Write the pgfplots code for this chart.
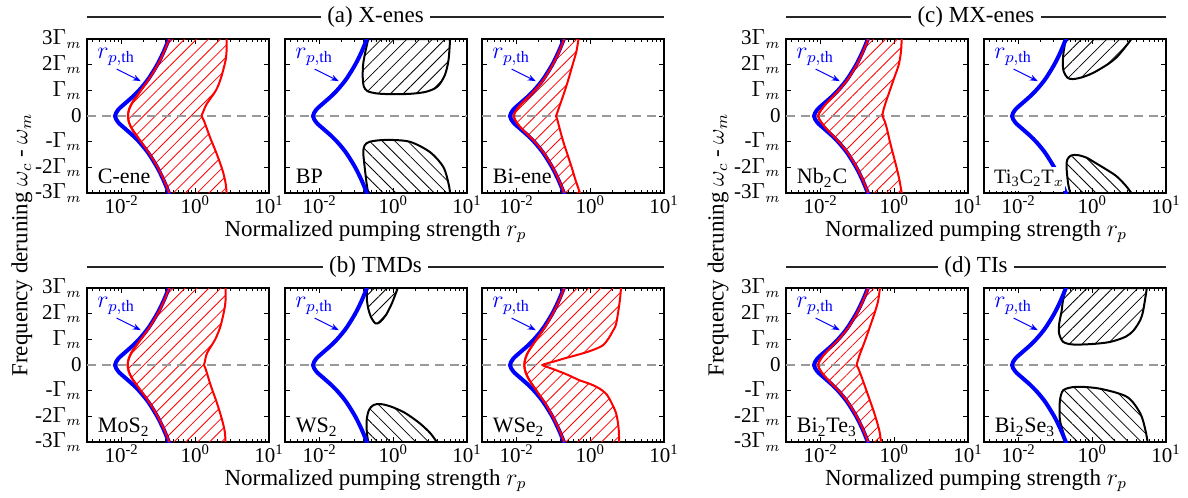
\documentclass[border=0pt]{standalone}
\usepackage{fontspec}
\setmainfont{Liberation Serif}
\usepackage{pgfplots}
\pgfplotsset{compat=1.18}
\usepgfplotslibrary{fillbetween}
\usepackage{pgfplotstable}
\usetikzlibrary{patterns.meta,arrows.meta}

\pgfplotstableread{
u d
0.654 -3.1
0.641 -3
0.569 -2.5
0.483 -2
0.376 -1.5
0.311 -1.25
0.236 -1
0.149 -0.75
0.050 -0.5
-0.045 -0.25
-0.09 0
-0.045 0.25
0.050 0.5
0.149 0.75
0.236 1
0.311 1.25
0.376 1.5
0.483 2
0.569 2.5
0.641 3
0.654 3.1
}\bluetab

\pgfplotsset{
  panel/.style={scale only axis, width=91pt, height=77pt, anchor=south west,
    xmin=-0.47, xmax=2, ymin=-3, ymax=3,
    xtick={0,1,2}, xticklabels={10\textsuperscript{-2},10\textsuperscript{0},10\textsuperscript{1}},
    minor xtick={-0.398,-0.301,-0.222,-0.155,-0.097,-0.046,0.301,0.477,0.602,0.699,0.778,0.845,0.903,0.954,1.301,1.477,1.602,1.699,1.778,1.845,1.903,1.954},
    ytick={-3,-2,-1,0,1,2,3}, yticklabels={},
    tick align=inside, major tick length=2.5pt, minor tick length=1.5pt,
    axis line style={line width=0.7pt},
    every tick/.style={black, line width=0.5pt},
    tick label style={font=\fontsize{10.5}{12}\selectfont},
    xticklabel style={yshift=1pt, inner sep=2pt},
    yticklabel style={inner sep=2.5pt}},
  ylab/.style={yticklabels={-3$\Gamma_m$,-2$\Gamma_m$,-$\Gamma_m$,0,$\Gamma_m$,2$\Gamma_m$,3$\Gamma_m$}},
}
\newcommand{\zero}{\addplot[gray!80, line width=0.7pt, dash pattern=on 4.5pt off 3pt] coordinates {(-0.47,0) (2,0)};}
\newcommand{\bluecurve}{\addplot[blue, line width=2pt, smooth] table[x=u,y=d]{\bluetab};}
\newcommand{\rth}{\node[blue, font=\fontsize{12}{14}\selectfont] at (rel axis cs:0.16,0.883) {$r_{p,\mathrm{th}}$};
  \draw[blue, line width=0.5pt, -{Stealth[length=4pt,width=3pt]}] (axis cs:-0.067,1.83) -- (axis cs:0.26,1.36);}
\newcommand{\plab}[1]{\node[anchor=base west, inner sep=1pt, font=\fontsize{11}{13}\selectfont] at (rel axis cs:0.047,0.06) {#1};}
\tikzset{redhatch/.style={draw=none, pattern={Lines[angle=45,distance=4.2pt,line width=0.4pt]}, pattern color=red},
  hatchNE/.style={pattern={Lines[angle=45,distance=4.5pt,line width=0.4pt]}, pattern color=black},
  hatchNW/.style={pattern={Lines[angle=-45,distance=4.5pt,line width=0.4pt]}, pattern color=black},
  redline/.style={red, line width=1pt, smooth},
  lobe/.style={black, line width=1pt, smooth}}

\begin{document}
\begin{tikzpicture}
\path (0,0) rectangle (594pt,246.5pt);

% ---------------- (a) X-enes ----------------
% C-ene
\begin{axis}[panel, ylab, at={(43.5pt,152pt)}]
\zero
\addplot[redline, name path=L] coordinates {(0.646,3)(0.575,2.5)(0.49,2)(0.385,1.5)(0.325,1.25)(0.262,1)(0.2,0.75)(0.14,0.5)(0.1,0.25)(0.086,0)(0.1,-0.25)(0.14,-0.5)(0.2,-0.75)(0.262,-1)(0.325,-1.25)(0.385,-1.5)(0.49,-2)(0.575,-2.5)(0.646,-3)};
\addplot[redline, name path=R] coordinates {(1.425,3)(1.425,2.6)(1.41,2.16)(1.35,1.5)(1.28,1)(1.154,0.47)(1.105,0.15)(1.086,0)(1.117,-0.18)(1.2,-0.83)(1.29,-1.47)(1.37,-2.12)(1.41,-2.6)(1.425,-3)};
\addplot[redhatch] fill between[of=L and R];
\bluecurve
\addplot[redline] coordinates {(0.646,3)(0.575,2.5)(0.49,2)(0.385,1.5)(0.325,1.25)(0.262,1)(0.2,0.75)(0.14,0.5)(0.1,0.25)(0.086,0)(0.1,-0.25)(0.14,-0.5)(0.2,-0.75)(0.262,-1)(0.325,-1.25)(0.385,-1.5)(0.49,-2)(0.575,-2.5)(0.646,-3)};
\rth
\plab{C-ene}
\end{axis}

% BP
\begin{axis}[panel, at={(142.5pt,152pt)}]
\zero
\addplot[lobe, hatchNE] coordinates {(0.66,3)(0.62,2.5)(0.59,2)(0.585,1.5)(0.6,1.15)(0.65,0.97)(0.78,0.88)(1.0,0.85)(1.25,0.87)(1.45,0.95)(1.6,1.15)(1.7,1.6)(1.75,2.2)(1.77,3)} -- cycle;
\addplot[lobe, hatchNW] coordinates {(0.66,-3)(0.638,-2.64)(0.606,-1.86)(0.592,-1.4)(0.61,-1.15)(0.68,-1.0)(0.9,-0.93)(1.22,-1.0)(1.5,-1.41)(1.68,-1.99)(1.75,-2.64)(1.77,-3)} -- cycle;
\bluecurve
\rth
\plab{BP}
\end{axis}

% Bi-ene
\begin{axis}[panel, at={(241pt,152pt)}]
\zero
\addplot[redline, name path=L] coordinates {(0.645,3)(0.575,2.5)(0.49,2)(0.385,1.5)(0.32,1.25)(0.245,1)(0.16,0.75)(0.07,0.5)(0.0,0.25)(-0.04,0)(0.0,-0.25)(0.07,-0.5)(0.16,-0.75)(0.245,-1)(0.32,-1.25)(0.385,-1.5)(0.49,-2)(0.575,-2.5)(0.645,-3)};
\addplot[redline, name path=R] coordinates {(0.84,3)(0.81,2.5)(0.77,2.1)(0.71,1.5)(0.656,1)(0.59,0.45)(0.545,0.08)(0.534,0)(0.55,-0.12)(0.58,-0.45)(0.633,-1)(0.69,-1.5)(0.747,-2)(0.8,-2.5)(0.86,-3)};
\addplot[redhatch] fill between[of=L and R];
\bluecurve
\addplot[redline] coordinates {(0.645,3)(0.575,2.5)(0.49,2)(0.385,1.5)(0.32,1.25)(0.245,1)(0.16,0.75)(0.07,0.5)(0.0,0.25)(-0.04,0)(0.0,-0.25)(0.07,-0.5)(0.16,-0.75)(0.245,-1)(0.32,-1.25)(0.385,-1.5)(0.49,-2)(0.575,-2.5)(0.645,-3)};
\rth
\plab{Bi-ene}
\end{axis}

% ---------------- (c) MX-enes ----------------
% Nb2C
\begin{axis}[panel, ylab, at={(393pt,152pt)}]
\zero
\addplot[redline, name path=L] coordinates {(0.645,3)(0.575,2.5)(0.49,2)(0.385,1.5)(0.32,1.25)(0.245,1)(0.165,0.75)(0.08,0.5)(0.01,0.25)(-0.035,0)(0.01,-0.25)(0.08,-0.5)(0.165,-0.75)(0.245,-1)(0.32,-1.25)(0.385,-1.5)(0.49,-2)(0.575,-2.5)(0.645,-3)};
\addplot[redline, name path=R] coordinates {(1.10,3)(1.09,2.5)(1.06,2)(1.0,1.5)(0.94,1)(0.88,0.5)(0.85,0.2)(0.84,0)(0.87,-0.2)(0.9,-0.5)(0.94,-1)(0.985,-1.5)(1.03,-2)(1.07,-2.5)(1.10,-3)};
\addplot[redhatch] fill between[of=L and R];
\bluecurve
\addplot[redline] coordinates {(0.645,3)(0.575,2.5)(0.49,2)(0.385,1.5)(0.32,1.25)(0.245,1)(0.165,0.75)(0.08,0.5)(0.01,0.25)(-0.035,0)(0.01,-0.25)(0.08,-0.5)(0.165,-0.75)(0.245,-1)(0.32,-1.25)(0.385,-1.5)(0.49,-2)(0.575,-2.5)(0.645,-3)};
\rth
\plab{Nb\textsubscript{2}C}
\end{axis}

% Ti3C2Tx
\begin{axis}[panel, at={(492pt,152pt)}]
\zero
\addplot[lobe, hatchNE] coordinates {(0.64,3)(0.61,2.5)(0.6,2.1)(0.61,1.75)(0.66,1.5)(0.73,1.44)(0.85,1.5)(1.01,1.68)(1.2,2.0)(1.33,2.29)(1.45,2.7)(1.53,3)} -- cycle;
\addplot[lobe, hatchNW] coordinates {(0.7,-3)(0.67,-2.6)(0.65,-2.0)(0.66,-1.7)(0.71,-1.54)(0.8,-1.52)(0.92,-1.62)(1.01,-1.77)(1.2,-2.1)(1.33,-2.35)(1.45,-2.7)(1.53,-3)} -- cycle;
\bluecurve
\rth
\node[anchor=base west, inner ysep=1.8pt, inner xsep=0.3pt, fill=white, font=\fontsize{10.2}{12}\selectfont] at (rel axis cs:0.05,0.06) {Ti\textsubscript{3}C\textsubscript{2}T$_x$};
\end{axis}

% ---------------- (b) TMDs ----------------
% MoS2
\begin{axis}[panel, ylab, at={(43.5pt,27.5pt)}]
\zero
\addplot[redline, name path=L] coordinates {(0.646,3)(0.575,2.5)(0.49,2)(0.385,1.5)(0.325,1.25)(0.26,1)(0.197,0.75)(0.137,0.5)(0.097,0.25)(0.082,0)(0.097,-0.25)(0.137,-0.5)(0.197,-0.75)(0.26,-1)(0.325,-1.25)(0.385,-1.5)(0.49,-2)(0.575,-2.5)(0.646,-3)};
\addplot[redline, name path=R] coordinates {(1.41,3)(1.41,2.5)(1.39,2.1)(1.34,1.5)(1.27,1)(1.16,0.47)(1.127,0.1)(1.117,0)(1.14,-0.15)(1.21,-0.8)(1.29,-1.45)(1.36,-2.1)(1.40,-2.6)(1.41,-3)};
\addplot[redhatch] fill between[of=L and R];
\bluecurve
\addplot[redline] coordinates {(0.646,3)(0.575,2.5)(0.49,2)(0.385,1.5)(0.325,1.25)(0.26,1)(0.197,0.75)(0.137,0.5)(0.097,0.25)(0.082,0)(0.097,-0.25)(0.137,-0.5)(0.197,-0.75)(0.26,-1)(0.325,-1.25)(0.385,-1.5)(0.49,-2)(0.575,-2.5)(0.646,-3)};
\rth
\plab{MoS\textsubscript{2}}
\end{axis}

% WS2
\begin{axis}[panel, at={(142.5pt,27.5pt)}]
\zero
\addplot[lobe, hatchNE] coordinates {(0.645,3)(0.64,2.6)(0.66,2.2)(0.7,1.85)(0.76,1.62)(0.82,1.68)(0.9,1.95)(0.98,2.4)(1.06,3)} -- cycle;
\addplot[lobe, hatchNW] coordinates {(0.66,-3)(0.64,-2.6)(0.64,-2.1)(0.67,-1.75)(0.73,-1.56)(0.82,-1.52)(0.95,-1.6)(1.15,-1.85)(1.35,-2.25)(1.5,-2.65)(1.59,-3)} -- cycle;
\bluecurve
\rth
\plab{WS\textsubscript{2}}
\end{axis}

% WSe2
\begin{axis}[panel, at={(241pt,27.5pt)}]
\zero
\addplot[redline, name path=L] coordinates {(0.646,3)(0.575,2.5)(0.49,2)(0.39,1.5)(0.33,1.25)(0.27,1)(0.21,0.75)(0.155,0.5)(0.118,0.25)(0.104,0)(0.118,-0.25)(0.155,-0.5)(0.21,-0.75)(0.27,-1)(0.33,-1.25)(0.39,-1.5)(0.49,-2)(0.575,-2.5)(0.646,-3)};
\addplot[redline, name path=R] coordinates {(1.416,3)(1.40,2.5)(1.35,1.6)(1.3,1.3)(1.25,1.05)(1.166,0.76)(1.0,0.55)(0.805,0.38)(0.65,0.26)(0.534,0.16)(0.42,0.07)(0.352,0)(0.43,-0.09)(0.534,-0.2)(0.7,-0.39)(0.85,-0.59)(1.0,-0.74)(1.12,-0.91)(1.2,-1.08)(1.257,-1.3)(1.35,-1.88)(1.385,-2.5)(1.39,-3)};
\addplot[redhatch] fill between[of=L and R];
\bluecurve
\addplot[redline] coordinates {(0.646,3)(0.575,2.5)(0.49,2)(0.39,1.5)(0.33,1.25)(0.27,1)(0.21,0.75)(0.155,0.5)(0.118,0.25)(0.104,0)(0.118,-0.25)(0.155,-0.5)(0.21,-0.75)(0.27,-1)(0.33,-1.25)(0.39,-1.5)(0.49,-2)(0.575,-2.5)(0.646,-3)};
\rth
\plab{WSe\textsubscript{2}}
\end{axis}

% ---------------- (d) TIs ----------------
% Bi2Te3
\begin{axis}[panel, ylab, at={(393pt,27.5pt)}]
\zero
\addplot[redline, name path=L] coordinates {(0.645,3)(0.575,2.5)(0.49,2)(0.385,1.5)(0.32,1.25)(0.245,1)(0.16,0.75)(0.075,0.5)(0.005,0.25)(-0.035,0)(0.005,-0.25)(0.075,-0.5)(0.16,-0.75)(0.245,-1)(0.32,-1.25)(0.385,-1.5)(0.49,-2)(0.575,-2.5)(0.645,-3)};
\addplot[redline, name path=R] coordinates {(0.805,3)(0.78,2.5)(0.74,2.09)(0.67,1.5)(0.6,0.93)(0.53,0.4)(0.495,0.08)(0.488,0)(0.51,-0.12)(0.55,-0.42)(0.61,-0.9)(0.67,-1.39)(0.72,-1.8)(0.76,-2.17)(0.8,-2.6)(0.82,-3)};
\addplot[redhatch] fill between[of=L and R];
\bluecurve
\addplot[redline] coordinates {(0.645,3)(0.575,2.5)(0.49,2)(0.385,1.5)(0.32,1.25)(0.245,1)(0.16,0.75)(0.075,0.5)(0.005,0.25)(-0.035,0)(0.005,-0.25)(0.075,-0.5)(0.16,-0.75)(0.245,-1)(0.32,-1.25)(0.385,-1.5)(0.49,-2)(0.575,-2.5)(0.645,-3)};
\rth
\plab{Bi\textsubscript{2}Te\textsubscript{3}}
\end{axis}

% Bi2Se3
\begin{axis}[panel, at={(492pt,27.5pt)}]
\zero
\addplot[lobe, hatchNE] coordinates {(0.643,3)(0.6,2.5)(0.584,2.12)(0.55,1.6)(0.55,1.22)(0.606,0.9)(0.742,0.8)(1.0,0.82)(1.24,0.9)(1.45,1.1)(1.56,1.35)(1.65,1.75)(1.69,2.12)(1.74,3)} -- cycle;
\addplot[lobe, hatchNW] coordinates {(0.64,-3)(0.606,-2.65)(0.56,-2.14)(0.555,-1.6)(0.56,-1.37)(0.606,-0.98)(0.78,-0.85)(1.1,-0.92)(1.47,-1.24)(1.65,-1.88)(1.72,-2.53)(1.75,-3)} -- cycle;
\bluecurve
\rth
\plab{Bi\textsubscript{2}Se\textsubscript{3}}
\end{axis}

% ---------------- group titles and labels ----------------
\begin{scope}[font=\fontsize{11.5}{13}\selectfont]
\draw[black!85, line width=0.75pt] (43.5pt,240pt) -- (332pt,240pt);
\node[fill=white, inner sep=3.3pt] at (187.75pt,240pt) {(a) X-enes};
\draw[black!85, line width=0.75pt] (393pt,240pt) -- (583pt,240pt);
\node[fill=white, inner sep=3.3pt] at (488pt,240pt) {(c) MX-enes};
\draw[black!85, line width=0.75pt] (43.5pt,115pt) -- (332pt,115pt);
\node[fill=white, inner sep=3.3pt] at (187.75pt,115pt) {(b) TMDs};
\draw[black!85, line width=0.75pt] (393pt,115pt) -- (583pt,115pt);
\node[fill=white, inner sep=3.3pt] at (488pt,115pt) {(d) TIs};

\node[anchor=base, inner sep=0pt] at (187.75pt,130.5pt) {Normalized pumping strength $r_p$};
\node[anchor=base, inner sep=0pt] at (488pt,130.5pt) {Normalized pumping strength $r_p$};
\node[anchor=base, inner sep=0pt] at (187.75pt,6pt) {Normalized pumping strength $r_p$};
\node[anchor=base, inner sep=0pt] at (488pt,6pt) {Normalized pumping strength $r_p$};

\node[rotate=90] at (11pt,126pt) {Frequency deruning $\omega_c$ - $\omega_m$};
\node[rotate=90] at (359pt,126pt) {Frequency deruning $\omega_c$ - $\omega_m$};
\end{scope}
\end{tikzpicture}
\end{document}
